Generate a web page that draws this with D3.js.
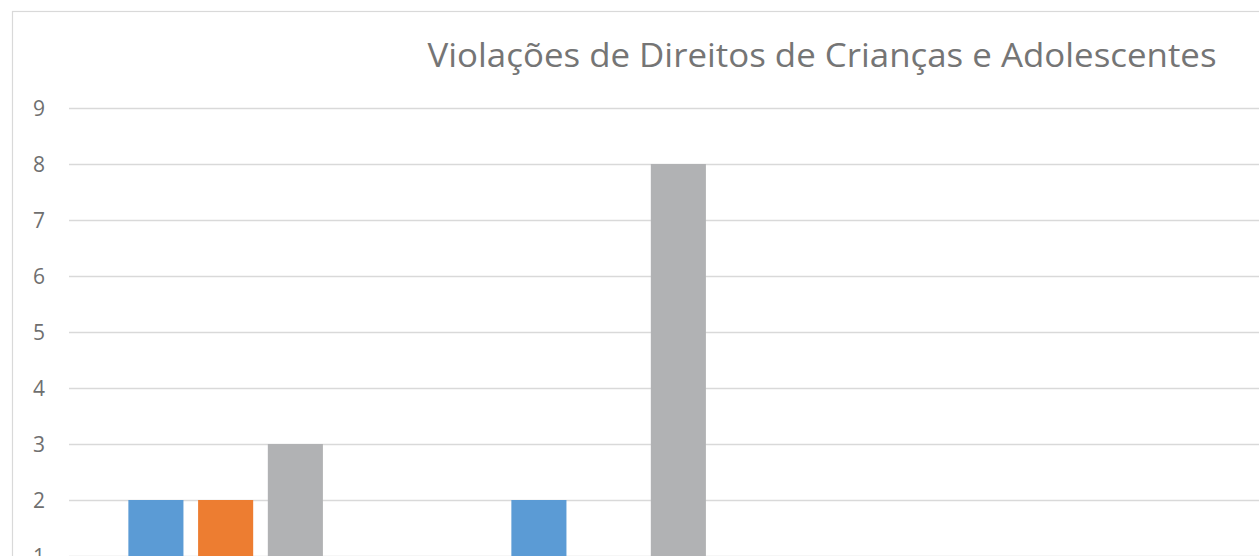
<!DOCTYPE html>
<html><head><meta charset="utf-8">
<script src="https://cdn.jsdelivr.net/npm/d3@7/dist/d3.min.js"></script>
<style>html,body{margin:0;padding:0;background:#fff;overflow:hidden}</style>
</head><body>
<svg id="chart" width="1259" height="556"></svg>
<script>
const title = "Violações de Direitos de Crianças e Adolescentes";
const categories = ["C1", "C2", "C3", "C4"];
const seriesNames = ["Série 1", "Série 2", "Série 3", "Série 4"];
const series1 = [2, 2, 0, 0];
const series2 = [2, 0, 0, 0];
const series3 = [3, 8, 0, 0];
const series4 = [0, 0, 0, 0];
const yTicks = [1, 2, 3, 4, 5, 6, 7, 8, 9];
const colors = ["#5b9bd5", "#ed7d31", "#b1b2b4", "#ffc000"];

const allSeries = [series1, series2, series3, series4];
const svg = d3.select("#chart");

// chart border (extends beyond the visible window)
svg.append("rect").attr("x", 12.5).attr("y", 11.5).attr("width", 1620).attr("height", 700)
  .attr("fill", "none").attr("stroke", "#d9d9d9").attr("stroke-width", 1.2);

const plotLeft = 69, plotRight = 1601;
const y = d3.scaleLinear().domain([0, 9]).range([612, 108]);
const x0 = d3.scaleBand().domain(categories).range([plotLeft, plotRight]).paddingInner(0.31).paddingOuter(0.155);
const x1 = d3.scaleBand().domain(seriesNames).range([0, x0.bandwidth()]).paddingInner(0.21);

// gridlines
const grid = d3.axisLeft(y).tickValues(yTicks).tickSize(-(plotRight - plotLeft)).tickFormat("");
svg.append("g").attr("transform", `translate(${plotLeft},0)`).call(grid)
  .call(g => g.select(".domain").remove())
  .call(g => g.selectAll("line").attr("stroke", "#d9d9d9").attr("stroke-width", 1.5));

// y labels
const yAx = d3.axisLeft(y).tickValues(yTicks).tickSize(0).tickPadding(0).tickFormat(d3.format("d"));
svg.append("g").attr("transform", `translate(45,0)`).call(yAx)
  .call(g => g.select(".domain").remove())
  .call(g => g.selectAll("text").attr("fill", "#6f6f6f").attr("font-family", "'Open Sans', sans-serif").attr("font-size", 21).attr("dy", "0.36em"));

// bars
const groups = svg.append("g").selectAll("g").data(categories).join("g")
  .attr("transform", d => `translate(${x0(d)},0)`);
groups.selectAll("rect")
  .data((c, i) => allSeries.map((s, k) => ({ name: seriesNames[k], v: s[i], k })))
  .join("rect")
  .attr("x", d => x1(d.name))
  .attr("width", x1.bandwidth())
  .attr("y", d => y(d.v))
  .attr("height", d => y(0) - y(d.v))
  .attr("fill", d => colors[d.k]);

// title
const t = svg.append("text").attr("x", 822).attr("y", 67).attr("text-anchor", "middle")
  .attr("font-family", "'Open Sans', sans-serif").attr("font-size", 32).attr("fill", "#757575")
  .text(title);
t.attr("textLength", 789).attr("lengthAdjust", "spacingAndGlyphs");
</script>
</body></html>
